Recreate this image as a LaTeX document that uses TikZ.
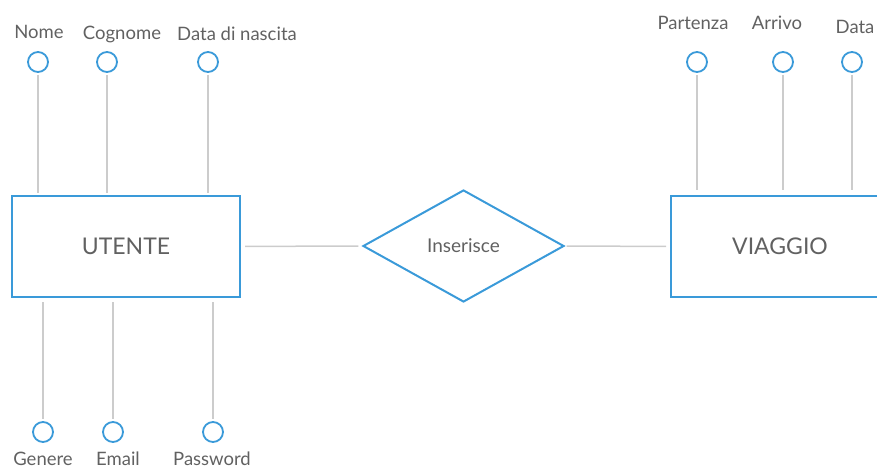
\documentclass[tikz,border=0pt]{standalone}
\usepackage{fontspec}
\setmainfont{Lato}
\usetikzlibrary{shapes.geometric}
\definecolor{erblue}{HTML}{3A9AD9}
\definecolor{ergray}{HTML}{CCCCCC}
\definecolor{ertext}{HTML}{616161}

\begin{document}
\begin{tikzpicture}[x=1pt,y=-1pt,
  entity/.style={draw=erblue,line width=2pt,minimum width=228pt,minimum height=101pt,text=ertext,font=\fontsize{23}{27}\selectfont},
  relation/.style={diamond,draw=erblue,line width=2pt,minimum width=201pt,minimum height=112pt,inner sep=0pt,text=ertext,font=\fontsize{19}{22}\selectfont},
  attr/.style={circle,draw=erblue,line width=1.8pt,minimum size=20pt,inner sep=0pt},
  lbl/.style={text=ertext,font=\fontsize{18.5}{20}\selectfont,inner sep=0pt},
  link/.style={draw=ergray,line width=1.5pt}]
\clip (0,0) rectangle (877,468);\useasboundingbox (0,0) rectangle (877,468);
\node[entity] (utente) at (126,246.5){UTENTE};
\node[entity,minimum width=218pt] (viaggio) at (780,246.5){VIAGGIO};
\node[relation] (inserisce) at (463.5,246){Inserisce};
\draw[link,shorten <=4pt,shorten >=4pt] (utente)--(inserisce);
\draw[link,shorten <=2pt,shorten >=4pt] (inserisce)--(viaggio);
\node[attr] (nome) at (38,62){};\node[lbl] (nome-l) at (39,32){Nome};
\node[attr] (cognome) at (107,62){};\node[lbl] (cognome-l) at (122,34){Cognome};
\node[attr] (nascita) at (208,62){};\node[lbl] (nascita-l) at (237,34){Data di nascita};
\node[attr] (genere) at (43,432){};\node[lbl] (genere-l) at (43,458.5){Genere};
\node[attr] (email) at (113,432){};\node[lbl] (email-l) at (118,458.5){Email};
\node[attr] (password) at (213,432){};\node[lbl] (password-l) at (212,458.5){Password};
\node[attr] (partenza) at (697,62){};\node[lbl] (partenza-l) at (693,23){Partenza};
\node[attr] (arrivo) at (783,62){};\node[lbl] (arrivo-l) at (777,23){Arrivo};
\node[attr] (data) at (852,62){};\node[lbl] (data-l) at (855,27){Data};
\foreach \a in {nome,cognome,nascita}
  \draw[link,shorten <=2pt,shorten >=2pt] (\a)--(\a |- utente.north);
\foreach \a in {genere,email,password}
  \draw[link,shorten <=4pt,shorten >=2pt] (\a |- utente.south)--(\a);
\foreach \a in {partenza,arrivo,data}
  \draw[link,shorten <=2pt,shorten >=5pt] (\a)--(\a |- viaggio.north);
\end{tikzpicture}
\end{document}
